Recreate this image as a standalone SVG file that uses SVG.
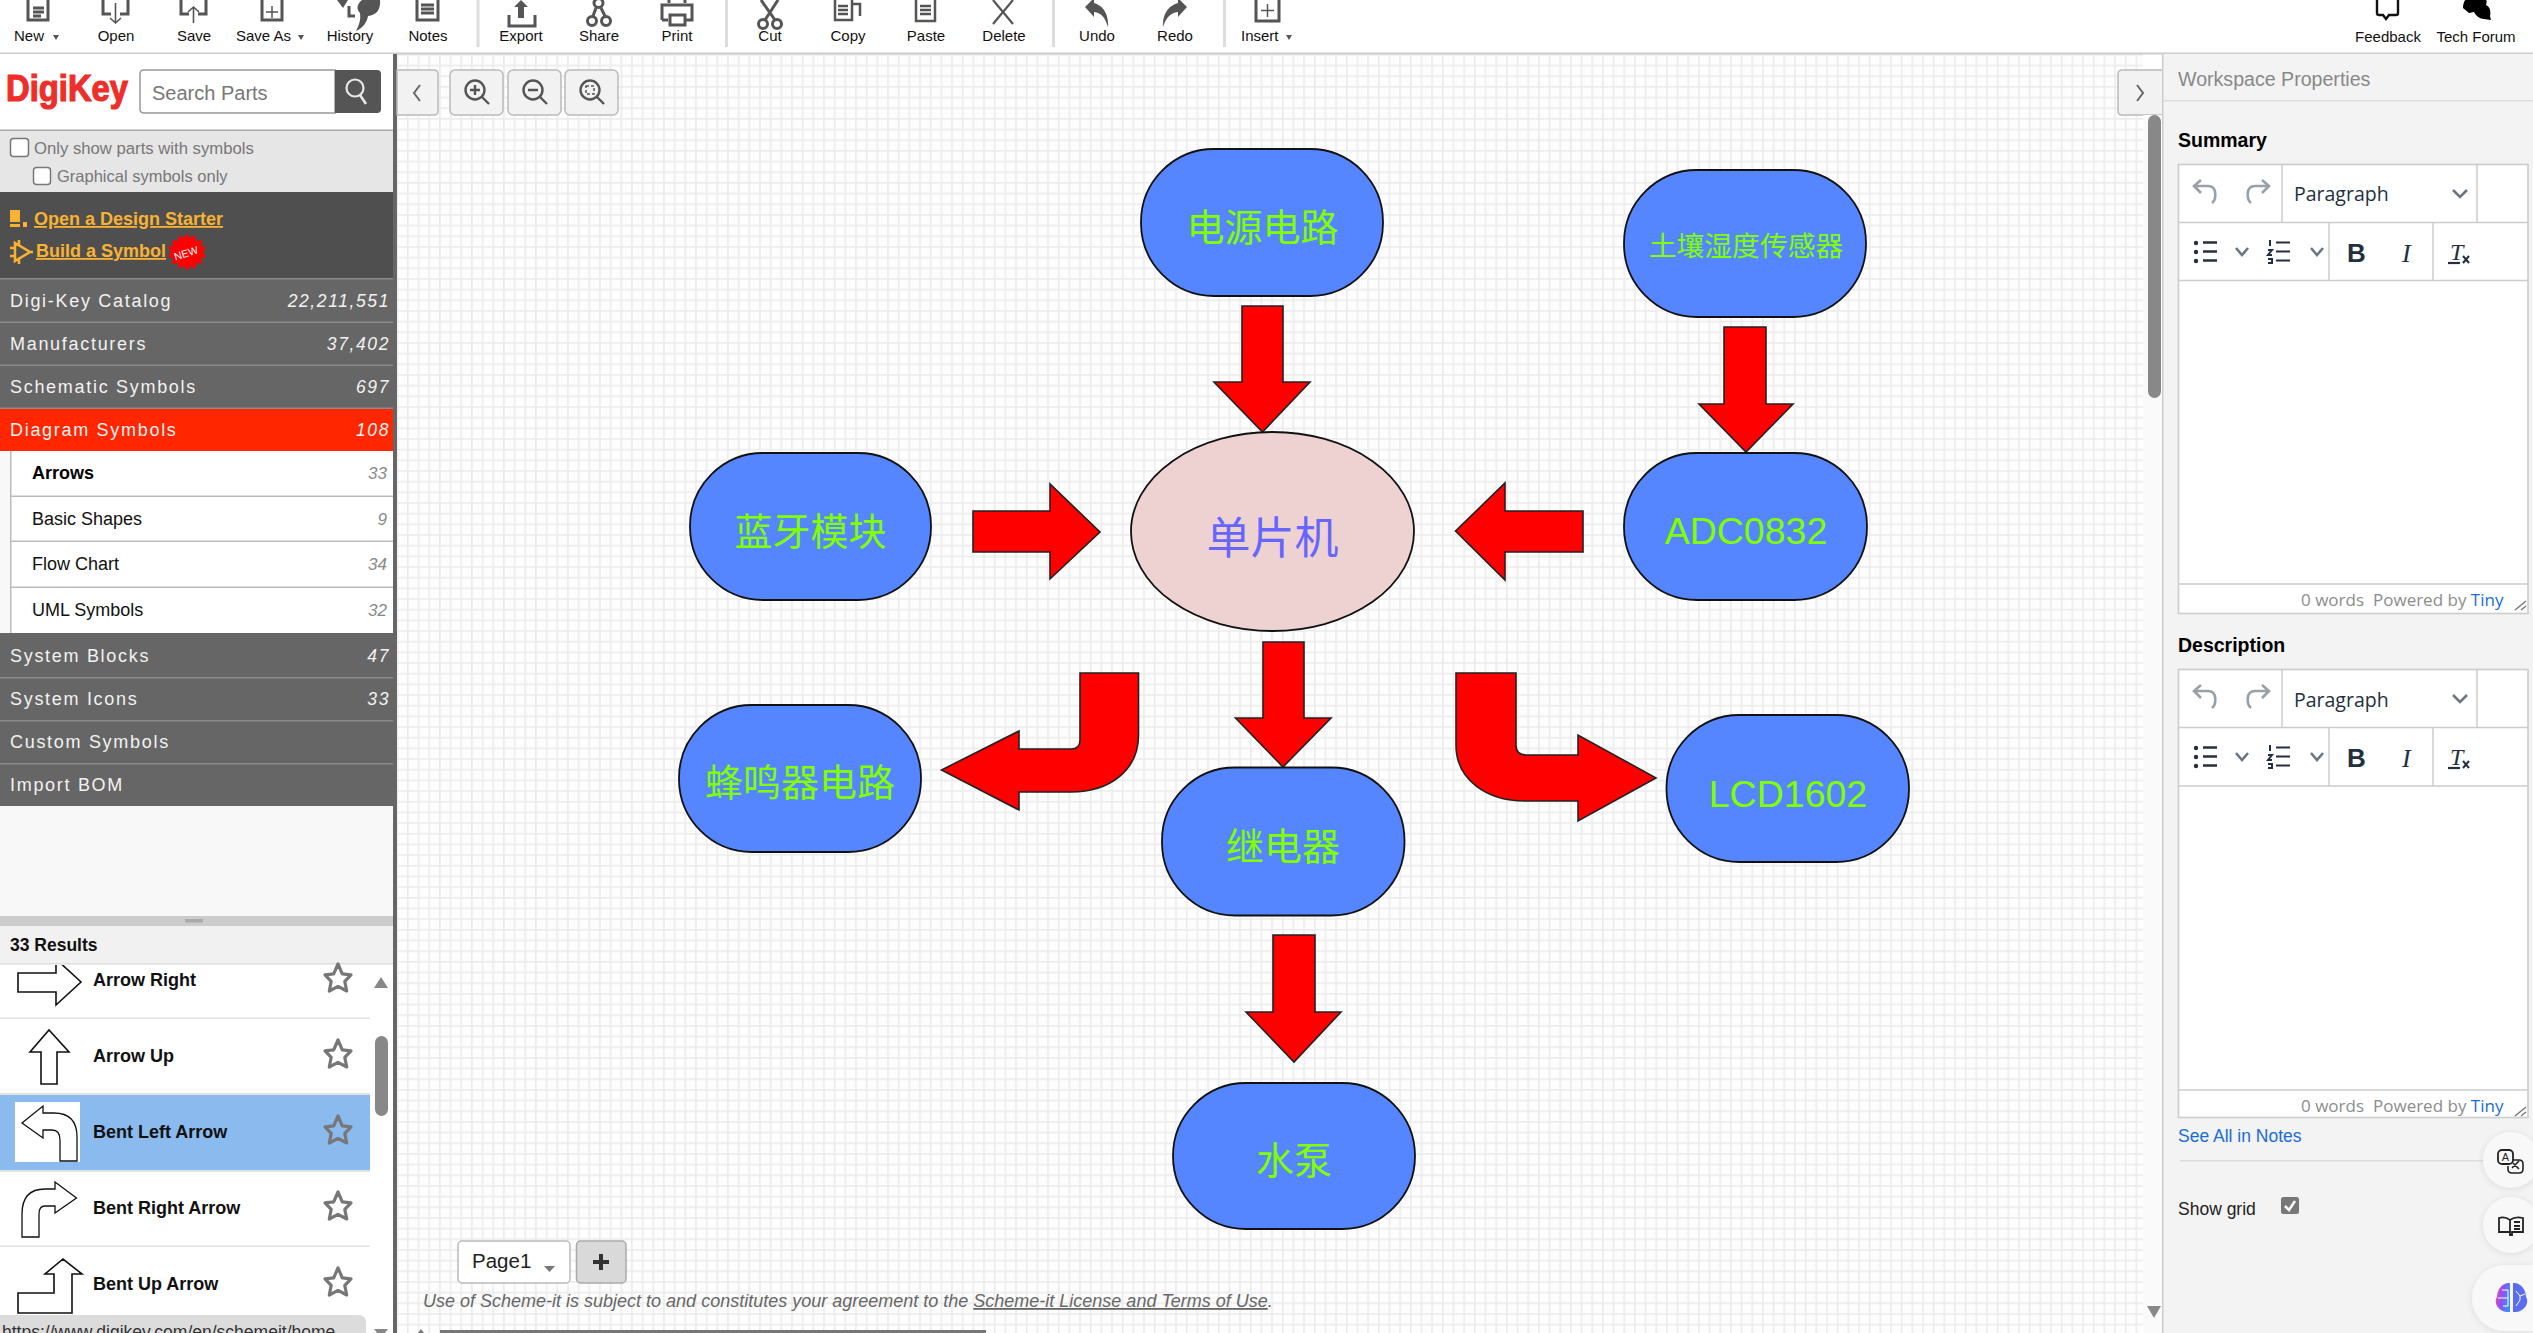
<svg xmlns="http://www.w3.org/2000/svg" width="2533" height="1333" viewBox="0 0 2533 1333">
<style>
text{font-family:"Liberation Sans",Arial,"Noto Sans CJK SC",sans-serif}
.tb{font-size:15px;fill:#111;text-anchor:middle}
.ic{fill:none;stroke:#555;stroke-width:3}
.icf{fill:#555}
.sep{fill:#ddd}
.term{fill:#5585ff;stroke:#111;stroke-width:1.8}
.lbl{font-family:"Noto Sans CJK SC","Liberation Sans",sans-serif;font-size:38px;fill:#7fff00;text-anchor:middle}
.lat{font-family:"Liberation Sans",sans-serif;font-size:37.5px}
.arrow{fill:#f00;stroke:#222;stroke-width:1.6;stroke-linejoin:miter}
.row{font-size:18px;fill:#f2f2f2;letter-spacing:1.7px}
.num{font-size:17.5px;fill:#f2f2f2;font-style:italic;text-anchor:end;letter-spacing:1.6px}
.rowbg{fill:#666}
.rowline{fill:#8a8a8a}
.sub{font-size:18px;fill:#111}
.cnt{font-size:17px;fill:#888;font-style:italic;text-anchor:end}
.subline{fill:#bbb}
.res{font-size:18px;font-weight:bold;fill:#111}
.ri{fill:#fff;stroke:#111;stroke-width:1.6}
.star{fill:none;stroke:#777;stroke-width:3.2;stroke-linejoin:round}
.rl{fill:#e2e2e2}
.btn{fill:#f2f2f2;stroke:#bbb;stroke-width:1.5}
.zi{fill:none;stroke:#555;stroke-width:2.4}
.box{fill:#fff;stroke:#ccc;stroke-width:1.6}
.eline{stroke:#ccc;stroke-width:1.5}
.hd{font-size:19.5px;font-weight:bold;fill:#000}
.para{font-family:"Open Sans","Noto Sans",sans-serif;font-size:19.5px;fill:#222f3e}
.ti{fill:none;stroke:#222f3e;stroke-width:2.6}
.tig{fill:none;stroke:#99a0a8;stroke-width:2.6}
.chev{fill:none;stroke:#6b7683;stroke-width:2.6}
.wc{font-family:"Open Sans","Noto Sans",sans-serif;font-size:17px;fill:#8c8c8c}
.tiny{fill:#1a6cd6}
.fl{fill:#f8f8f8;filter:url(#sh)}
</style>
<defs>
<pattern id="grid" width="10.67" height="10.67" patternUnits="userSpaceOnUse" x="407" y="54">
<rect width="10.67" height="10.67" fill="#fdfdfd"/>
<rect width="1.6" height="10.67" fill="#ececec"/>
<rect width="10.67" height="1.6" fill="#ececec"/>
</pattern>
<path id="st" d="M0 -15 L4.3 -5.200 L13 -4.200 L6.800 2.400 L8.700 12 L0 7.400 L-8.700 12 L-6.800 2.400 L-13 -4.200 L-4.300 -5.200 Z"/>
<clipPath id="listclip"><rect x="0" y="965" width="370" height="368"/></clipPath>
<linearGradient id="br" x1="0" y1="0" x2="1" y2="0.3"><stop offset="0" stop-color="#f04bb0"/><stop offset="0.5" stop-color="#9a4bf0"/><stop offset="1" stop-color="#3f8cff"/></linearGradient>
<filter id="sh" x="-30%" y="-30%" width="160%" height="160%"><feDropShadow dx="0" dy="1" stdDeviation="3" flood-color="#000" flood-opacity="0.1"/></filter>
</defs>

<rect width="2533" height="1333" fill="#fff"/>
<rect x="397" y="54" width="1746" height="1279" fill="url(#grid)"/>

<g id="toolbar">
<rect x="0" y="52.500" width="2533" height="2" fill="#ccc"/>
<text class="tb" x="14" y="41" style="text-anchor:start">New</text><path class="icf" d="M53 35h6l-3 5z"/>
<text class="tb" x="116" y="41">Open</text>
<text class="tb" x="194" y="41">Save</text>
<text class="tb" x="236" y="41" style="text-anchor:start">Save As</text><path class="icf" d="M298 35h6l-3 5z"/>
<text class="tb" x="350" y="41">History</text>
<text class="tb" x="428" y="41">Notes</text>
<text class="tb" x="521" y="41">Export</text>
<text class="tb" x="599" y="41">Share</text>
<text class="tb" x="677" y="41">Print</text>
<text class="tb" x="770" y="41">Cut</text>
<text class="tb" x="848" y="41">Copy</text>
<text class="tb" x="926" y="41">Paste</text>
<text class="tb" x="1004" y="41">Delete</text>
<text class="tb" x="1097" y="41">Undo</text>
<text class="tb" x="1175" y="41">Redo</text>
<text class="tb" x="1241" y="41" style="text-anchor:start">Insert</text><path class="icf" d="M1286 35h6l-3 5z"/>
<text class="tb" x="2388" y="42">Feedback</text>
<text class="tb" x="2476" y="42">Tech Forum</text>
<rect class="sep" x="476.500" y="0" width="3" height="47"/><rect class="sep" x="725" y="0" width="3" height="47"/><rect class="sep" x="1052" y="0" width="3" height="47"/><rect class="sep" x="1223" y="0" width="3" height="47"/>
<path class="ic" d="M28 -3V20H48V-3M33 8H44M33 12H44M33 16H41"/>
<path class="ic" d="M103 0V14H111M128 0V14H120"/><path d="M115.500 3V23M110 18L115.500 23L121 18" fill="none" stroke="#555" stroke-width="1.600"/>
<path class="ic" d="M181 0V14H189M206 0V14H198"/><path d="M193.500 7V23M188 12L193.500 7L199 12" fill="none" stroke="#555" stroke-width="1.600"/>
<path class="ic" d="M262 -3V20H282V-3"/><path d="M272 6V18M266 12H278" stroke="#555" stroke-width="1.500"/>
<path class="icf" d="M337 0H348L343 8ZM362 0H380C381 10 376 15 368 16C367 22 363 28 356 31C359 25 361 20 360 13C356 9 357 4 362 0Z"/><path class="ic" d="M349 6V16H355"/>
<path class="ic" d="M417 -3V20H438V-3M421 5H434M421 9H434M421 13H434"/>
<path class="ic" d="M509 15V26H535V15"/><path class="icf" d="M521 0L528 7H524V18H518V7H514Z"/>
<g class="ic"><circle cx="598.500" cy="3" r="4.500"/><circle cx="592" cy="21" r="4.500"/><circle cx="606" cy="21" r="4.500"/><path d="M596 8L593 16M601 8L605 16"/></g>
<path class="ic" d="M669 0V3M685 0V3M662 20V5H692V20H686M668 20H662M670 15H685V25H670Z"/>
<g class="ic"><circle cx="763" cy="24" r="4.500"/><circle cx="777" cy="24" r="4.500"/><path d="M765 20L778 0M775 20L761 0"/></g>
<path class="ic" d="M835 0V20H852V0M852 4H860V16M838 6H848M838 10H848M838 14H848" style="stroke-width:2.500"/>
<path class="ic" d="M916 0V21H935V0M920 6H931M920 10H931M920 14H931" style="stroke-width:2.500"/>
<path d="M993 0L1013 24M1013 0L993 24" stroke="#555" stroke-width="2.200"/>
<path class="icf" d="M1085 7L1094 -2V3C1102 5 1109 13 1108 27C1105 18 1102 13 1094 12V17Z"/>
<path class="icf" d="M1187 7L1178 -2V3C1170 5 1162 13 1163 27C1166 18 1170 13 1178 12V17Z"/>
<path class="ic" d="M1256 -3V21H1279V-3"/><path d="M1267.500 4V17M1261 10.500H1274" stroke="#555" stroke-width="1.500"/>
<path d="M2377 -3V13C2377 14 2378 15 2379 15H2383L2386 19L2389 15H2396C2397 15 2398 14 2398 13V-3" fill="none" stroke="#111" stroke-width="2.400"/>
<path d="M2463 8C2463 -2 2470 -5 2478 -5C2485 -5 2488 0 2486 5C2490 7 2491 11 2490 16L2491 20L2484 19C2480 19 2476 16 2474 12L2469 13Z" fill="#000"/>
</g>

<g id="left-panel">
<rect x="0" y="54" width="393" height="1279" fill="#fff"/>
<rect x="393" y="54" width="4" height="1279" fill="#666"/>
<text x="6" y="101" font-size="36" font-weight="bold" fill="#ee2e2a" stroke="#ee2e2a" stroke-width="1.200" textLength="122" lengthAdjust="spacingAndGlyphs">DigiKey</text>
<path d="M335 70H144Q140 70 140 74V109Q140 113 144 113H335Z" fill="#fff" stroke="#999" stroke-width="1.500"/>
<path d="M335 70H377Q381 70 381 74V109Q381 113 377 113H335Z" fill="#555"/>
<text x="152" y="100" font-size="20" fill="#777">Search Parts</text>
<circle cx="355" cy="88" r="8.500" fill="none" stroke="#e8e8e8" stroke-width="2.200"/><path d="M360 95L366 104" stroke="#e8e8e8" stroke-width="2.500"/>
<rect x="0" y="130" width="393" height="62" fill="#e6e6e6"/><rect x="0" y="129.500" width="393" height="1.500" fill="#aaa"/>
<rect x="10.500" y="138.500" width="18" height="18" rx="3" fill="#fff" stroke="#777" stroke-width="1.500"/>
<text x="34" y="154" font-size="16.700" fill="#777">Only show parts with symbols</text>
<rect x="33.500" y="167.500" width="17" height="17" rx="3" fill="#fff" stroke="#777" stroke-width="1.500"/>
<text x="57" y="182" font-size="16.500" fill="#777">Graphical symbols only</text>
<rect x="0" y="192" width="393" height="87" fill="#4f4f4f"/>
<path d="M10 210H20V222H10ZM10 224H20V227H10ZM23 222H27V227H23Z" fill="#f9b233"/>
<text x="34" y="225" font-size="18" font-weight="bold" fill="#f9b233" text-decoration="underline">Open a Design Starter</text>
<path d="M15 243V261L30 252ZM10 248H15M10 256H15M30 252H33M19 240V245M19 259V264" fill="none" stroke="#f9b233" stroke-width="2.500"/>
<text x="36" y="257" font-size="18" font-weight="bold" fill="#f9b233" text-decoration="underline" textLength="130">Build a Symbol</text>
<path d="M187 233l3 5 5-3 1 6 6-1-1 6 5 1-3 5 3 5-5 1 1 6-6-1-1 6-5-3-3 5-3-5-5 3-1-6-6 1 1-6-5-1 3-5-3-5 5-1-1-6 6 1 1-6 5 3z" fill="#f00"/>
<text x="186" y="257" font-size="10.500" fill="#fff" text-anchor="middle" transform="rotate(-18 186 253)">NEW</text>

<rect class="rowbg" x="0" y="279" width="393" height="129"/>
<rect x="0" y="408" width="393" height="43" fill="#ff2600"/>
<rect class="rowline" x="0" y="278" width="393" height="1.500"/><rect class="rowline" x="0" y="321.500" width="393" height="1.500"/><rect class="rowline" x="0" y="364.500" width="393" height="1.500"/><rect class="rowline" x="0" y="407.500" width="393" height="1.500"/>
<text class="row" x="10" y="307">Digi-Key Catalog</text><text class="num" x="390" y="307">22,211,551</text>
<text class="row" x="10" y="350">Manufacturers</text><text class="num" x="390" y="350">37,402</text>
<text class="row" x="10" y="393">Schematic Symbols</text><text class="num" x="390" y="393">697</text>
<text class="row" x="10" y="436">Diagram Symbols</text><text class="num" x="390" y="436">108</text>

<rect x="0" y="451" width="11" height="183" fill="#f8f8f8"/>
<rect x="10" y="451" width="1.500" height="183" fill="#bbb"/>
<rect class="subline" x="11" y="495.500" width="382" height="1.500"/><rect class="subline" x="11" y="540.500" width="382" height="1.500"/><rect class="subline" x="11" y="586.500" width="382" height="1.500"/>
<text class="sub" x="32" y="479" style="font-weight:bold;fill:#000">Arrows</text><text class="cnt" x="387" y="479">33</text>
<text class="sub" x="32" y="525">Basic Shapes</text><text class="cnt" x="387" y="525">9</text>
<text class="sub" x="32" y="570">Flow Chart</text><text class="cnt" x="387" y="570">34</text>
<text class="sub" x="32" y="616">UML Symbols</text><text class="cnt" x="387" y="616">32</text>

<rect class="rowbg" x="0" y="633" width="393" height="173"/>
<rect class="rowline" x="0" y="677" width="393" height="1.500"/><rect class="rowline" x="0" y="720" width="393" height="1.500"/><rect class="rowline" x="0" y="763" width="393" height="1.500"/>
<text class="row" x="10" y="662">System Blocks</text><text class="num" x="390" y="662">47</text>
<text class="row" x="10" y="705">System Icons</text><text class="num" x="390" y="705">33</text>
<text class="row" x="10" y="748">Custom Symbols</text>
<text class="row" x="10" y="791">Import BOM</text>

<rect x="0" y="806" width="393" height="110" fill="#f8f8f8"/>
<rect x="0" y="916" width="393" height="10" fill="#ccc"/><rect x="185" y="919" width="18" height="3.500" fill="#aaa"/>
<rect x="0" y="926" width="393" height="37" fill="#f1f1f1"/><rect x="0" y="963" width="393" height="1.500" fill="#ddd"/>
<text x="10" y="951" font-size="17.500" font-weight="bold" fill="#111">33 Results</text>

<rect class="rl" x="0" y="1017.500" width="370" height="1.500"/><rect class="rl" x="0" y="1093" width="370" height="2"/><rect class="rl" x="0" y="1170" width="370" height="2"/><rect class="rl" x="0" y="1245.500" width="370" height="1.500"/>
<rect x="0" y="1095" width="370" height="75" fill="#8abaee"/>
<rect x="15" y="1102" width="65" height="60" fill="#fff"/>
<path class="ri" clip-path="url(#listclip)" d="M18 973H56V959L81 982L56 1005V992H18Z"/>
<path class="ri" d="M41 1084V1052H30L49 1030L69 1052H57V1084Z"/>
<path class="ri" d="M60 1161V1140Q60 1130 52 1130H43V1138L22 1123L43 1106V1113H54Q77 1113 77 1137V1161Z" style="stroke-width:1.300"/>
<path class="ri" d="M22 1237V1214Q22 1189 45 1189H55V1182L76.500 1198L55 1213V1206H45Q39 1206 39 1214V1237Z" style="stroke-width:1.300"/>
<path class="ri" d="M18 1313V1293H54V1274H45L63 1259L82 1274H72V1313Z"/>
<text class="res" x="93" y="986">Arrow Right</text>
<text class="res" x="93" y="1062">Arrow Up</text>
<text class="res" x="93" y="1138">Bent Left Arrow</text>
<text class="res" x="93" y="1214">Bent Right Arrow</text>
<text class="res" x="93" y="1290">Bent Up Arrow</text>
<use href="#st" class="star" x="338" y="979"/><use href="#st" class="star" x="338" y="1055"/><use href="#st" class="star" x="338" y="1131"/><use href="#st" class="star" x="338" y="1207"/><use href="#st" class="star" x="338" y="1283"/>
<rect x="375" y="1036" width="13" height="80" rx="6.500" fill="#888"/>
<path d="M374 988L381 977L388 988Z" fill="#888"/><path d="M374 1329H388L381 1338Z" fill="#888"/>
<path d="M0 1315H358Q366 1315 366 1323V1333H0Z" fill="#dcdcdc"/>
<text x="2" y="1338" font-size="17.500" fill="#333">https://www.digikey.com/en/schemeit/home</text>
</g>

<g id="canvas-tools">
<path d="M397 70H434Q438 70 438 74V111Q438 115 434 115H397Z" class="btn"/><path d="M420 85L414 93L420 101" fill="none" stroke="#666" stroke-width="2"/>
<rect class="btn" x="450" y="70" width="53" height="45" rx="5"/><rect class="btn" x="508" y="70" width="53" height="45" rx="5"/><rect class="btn" x="565" y="70" width="53" height="45" rx="5"/>
<circle class="zi" cx="475" cy="90" r="9.500"/><path class="zi" d="M482 97L489 104M475 85V95M470 90H480"/>
<circle class="zi" cx="533" cy="90" r="9.500"/><path class="zi" d="M540 97L547 104M528 90H538"/>
<circle class="zi" cx="590" cy="90" r="9.500"/><path class="zi" d="M597 97L604 104"/><rect x="586" y="86" width="8" height="8" fill="none" stroke="#555" stroke-width="1.500" stroke-dasharray="3 2"/>
<path d="M2163 70H2122Q2118 70 2118 74V111Q2118 115 2122 115H2163Z" class="btn"/><path d="M2137 85L2143 93L2137 101" fill="none" stroke="#666" stroke-width="2"/>
<rect x="2143" y="115" width="20" height="1218" fill="#fafafa"/>
<rect x="2148" y="115" width="13" height="283" rx="6.500" fill="#888"/>
<path d="M2147 1306H2161L2154 1318Z" fill="#888"/>
<rect class="btn" x="458" y="1241" width="112" height="42" rx="4" style="fill:#fff"/>
<text x="472" y="1268" font-size="20.500" fill="#222">Page1</text><path d="M544 1266H555L549.500 1272Z" fill="#777"/>
<rect x="576.500" y="1241" width="49.500" height="42" rx="4" fill="#d9d9d9" stroke="#aaa" stroke-width="1.500"/>
<path d="M601 1254V1270M593 1262H609" stroke="#333" stroke-width="4"/>
<text x="423" y="1307" font-size="18" font-style="italic" fill="#666">Use of Scheme-it is subject to and constitutes your agreement to the <tspan text-decoration="underline">Scheme-it License and Terms of Use</tspan>.</text>
<rect x="440" y="1330" width="546" height="3" fill="#777"/>
<path d="M418 1333L421 1329L424 1333Z" fill="#777"/>
</g>

<g id="right-panel">
<rect x="2163" y="54" width="370" height="1279" fill="#f3f3f3"/>
<rect x="2162" y="54" width="1.500" height="1279" fill="#ccc"/>
<rect x="2163" y="100" width="370" height="1.500" fill="#ddd"/>
<text x="2178" y="86" font-size="19.600" fill="#888">Workspace Properties</text>
<text class="hd" x="2178" y="147">Summary</text>
<rect class="box" x="2178.500" y="164.500" width="349.500" height="449"/>
<path class="eline" d="M2178 222.500H2528M2178 280.500H2528M2178 584H2528M2282 165V222M2477 165V222M2329 223V280M2433 223V280"/>
<path class="tig" d="M2195 186H2208C2218 186 2216 200 2212 203M2201 180L2194 186L2201 193"/><path class="tig" d="M2268 186H2255C2245 186 2247 200 2251 203M2262 180L2269 186L2262 193"/>
<text class="para" x="2294" y="201">Paragraph</text>
<path class="chev" d="M2453 190L2460 197L2467 190"/>
<path class="ti" d="M2203 242.500H2217M2203 251.500H2217M2203 260.500H2217"/><circle cx="2196" cy="243" r="2.200" fill="#222f3e"/><circle cx="2196" cy="252" r="2.200" fill="#222f3e"/><circle cx="2196" cy="261" r="2.200" fill="#222f3e"/>
<path class="chev" d="M2236 248L2242 255L2248 248"/>
<path class="ti" d="M2276 242.500H2290M2276 251.500H2290M2276 260.500H2290M2270 240V246M2268 250H2272L2268 255H2272M2268 259H2272V263H2268" style="stroke-width:2"/>
<path class="chev" d="M2311 248L2317 255L2323 248"/>
<text x="2347" y="262" font-size="26" font-weight="bold" fill="#222f3e">B</text>
<text x="2402" y="262" font-size="26" font-style="italic" fill="#222f3e" style="font-family:'Liberation Serif',serif">I</text>
<text x="2450" y="260" font-size="24" font-style="italic" fill="#222f3e" style="font-family:'Liberation Serif',serif">T</text><path d="M2448 263H2460" stroke="#222f3e" stroke-width="2.200"/><path d="M2463 256L2469 263M2469 256L2463 263" stroke="#222f3e" stroke-width="2"/>
<text class="wc" x="2301" y="606">0 words<tspan x="2373">Powered by </tspan><tspan class="tiny">Tiny</tspan></text>
<path d="M2515 610L2526 601M2521 610L2526 606" stroke="#777" stroke-width="1.500"/>

<text class="hd" x="2178" y="652">Description</text>
<rect class="box" x="2178.500" y="669.500" width="349.500" height="448"/>
<path class="eline" d="M2178 727.500H2528M2178 786H2528M2178 1090H2528M2282 670V727M2477 670V727M2329 728V786M2433 728V786"/>
<path class="tig" d="M2195 691H2208C2218 691 2216 705 2212 708M2201 685L2194 691L2201 698"/><path class="tig" d="M2268 691H2255C2245 691 2247 705 2251 708M2262 685L2269 691L2262 698"/>
<text class="para" x="2294" y="707">Paragraph</text>
<path class="chev" d="M2453 695L2460 702L2467 695"/>
<path class="ti" d="M2203 747.500H2217M2203 756.500H2217M2203 765.500H2217"/><circle cx="2196" cy="748" r="2.200" fill="#222f3e"/><circle cx="2196" cy="757" r="2.200" fill="#222f3e"/><circle cx="2196" cy="766" r="2.200" fill="#222f3e"/>
<path class="chev" d="M2236 753L2242 760L2248 753"/>
<path class="ti" d="M2276 747.500H2290M2276 756.500H2290M2276 765.500H2290M2270 745V751M2268 755H2272L2268 760H2272M2268 764H2272V768H2268" style="stroke-width:2"/>
<path class="chev" d="M2311 753L2317 760L2323 753"/>
<text x="2347" y="767" font-size="26" font-weight="bold" fill="#222f3e">B</text>
<text x="2402" y="767" font-size="26" font-style="italic" fill="#222f3e" style="font-family:'Liberation Serif',serif">I</text>
<text x="2450" y="765" font-size="24" font-style="italic" fill="#222f3e" style="font-family:'Liberation Serif',serif">T</text><path d="M2448 768H2460" stroke="#222f3e" stroke-width="2.200"/><path d="M2463 761L2469 768M2469 761L2463 768" stroke="#222f3e" stroke-width="2"/>
<text class="wc" x="2301" y="1112">0 words<tspan x="2373">Powered by </tspan><tspan class="tiny">Tiny</tspan></text>
<path d="M2515 1116L2526 1107M2521 1116L2526 1112" stroke="#777" stroke-width="1.500"/>
<text x="2178" y="1142" font-size="17.500" fill="#1a6cd6">See All in Notes</text>
<rect x="2180" y="1160" width="305" height="1.500" fill="#ddd"/>
<text x="2178" y="1215" font-size="17.500" fill="#222">Show grid</text>
<rect x="2281" y="1197" width="18" height="17" rx="2.500" fill="#777"/><path d="M2285 1206L2289 1210L2295 1201" fill="none" stroke="#fff" stroke-width="2.500"/>
<circle class="fl" cx="2511" cy="1160" r="28"/>
<circle class="fl" cx="2511" cy="1225" r="28"/>
<path class="fl" d="M2533 1265H2505A33 33 0 0 0 2505 1331H2533Z"/>
<rect x="2498" y="1150" width="15" height="14" rx="4" fill="none" stroke="#222" stroke-width="1.800"/><text x="2505.500" y="1161" font-size="11" text-anchor="middle" fill="#222">A</text>
<path d="M2513 1160H2519Q2523 1160 2523 1164V1169Q2523 1173 2519 1173H2512Q2508 1173 2508 1169V1166M2512 1168L2519 1161M2513 1163L2519 1169" fill="none" stroke="#222" stroke-width="1.600"/>
<path d="M2510 1220C2506 1217 2502 1217 2499 1218V1232H2510V1235H2512V1232H2523V1218C2519 1217 2514 1217 2510 1220ZM2510 1220V1232M2514 1222H2520M2514 1226H2520M2514 1229H2520" fill="none" stroke="#222" stroke-width="1.800"/>
<path d="M2510 1283C2503 1282 2497 1289 2497 1297C2493 1303 2499 1313 2510 1312V1283Z" fill="url(#br)"/>
<path d="M2513 1283C2520 1282 2526 1289 2526 1297C2530 1303 2524 1313 2513 1312V1283Z" fill="#5a6cf0"/>
<path d="M2498 1298H2508M2502 1290H2508V1306H2503M2516 1291L2520 1296L2525 1294M2520 1296V1300L2516 1306" fill="none" stroke="#fff" stroke-width="1"/>
</g>

<g id="connectors">
<path class="arrow" d="M1242 306H1283V382H1310L1262.500 432L1214 382H1242Z"/>
<path class="arrow" d="M1724 327H1766V404H1793L1746 452L1699 404H1724Z"/>
<path class="arrow" d="M973 511H1050V484L1100 532L1050 579V552H973Z"/>
<path class="arrow" d="M1583 511H1505V483L1455.500 531L1505 580V552H1583Z"/>
<path class="arrow" d="M1263 642H1304V718H1331L1283 767L1235.500 718H1263Z"/>
<path class="arrow" d="M1273 935H1315V1012H1341L1294 1062L1246 1012H1273Z"/>
<path class="arrow" d="M1080 673H1138.500V735C1138.500 770 1110 792 1071 792H1019V810L941.500 770L1019 731V749H1071Q1080 749 1080 740Z"/>
<path class="arrow" d="M1456 673H1516V745Q1516 755 1526 755H1578V735L1656 778L1578 821V801H1525C1487 801 1456 780 1456 745Z"/>
</g>

<g id="node-power"><rect class="term" x="1141" y="149" width="242" height="147" rx="73" ry="73"/><text class="lbl" x="1262.500" y="241">电源电路</text></g>
<g id="node-soil"><rect class="term" x="1624" y="170" width="242" height="147" rx="73" ry="73"/><text class="lbl" x="1746" y="256" style="font-size:27.800px">土壤湿度传感器</text></g>
<g id="node-bluetooth"><rect class="term" x="690" y="453" width="241" height="147" rx="73" ry="73"/><text class="lbl" x="810.500" y="545">蓝牙模块</text></g>
<g id="node-adc"><rect class="term" x="1624" y="453" width="243" height="147" rx="73" ry="73"/><text class="lbl lat" x="1746" y="544">ADC0832</text></g>
<g id="node-mcu"><ellipse cx="1272.500" cy="531.500" rx="141.500" ry="99.500" fill="#eed2d2" stroke="#111" stroke-width="1.800"/><text class="lbl" x="1272.500" y="554" style="font-size:44px;fill:#6666ff">单片机</text></g>
<g id="node-buzzer"><rect class="term" x="679" y="705" width="242" height="147" rx="73" ry="73"/><text class="lbl" x="800" y="796">蜂鸣器电路</text></g>
<g id="node-relay"><rect class="term" x="1162" y="767.500" width="242.500" height="148" rx="73" ry="73"/><text class="lbl" x="1283" y="860">继电器</text></g>
<g id="node-lcd"><rect class="term" x="1666.500" y="715" width="242.500" height="147" rx="73" ry="73"/><text class="lbl lat" x="1788" y="807">LCD1602</text></g>
<g id="node-pump"><rect class="term" x="1173" y="1083" width="242" height="146" rx="73" ry="73"/><text class="lbl" x="1294" y="1174">水泵</text></g>
</svg>
